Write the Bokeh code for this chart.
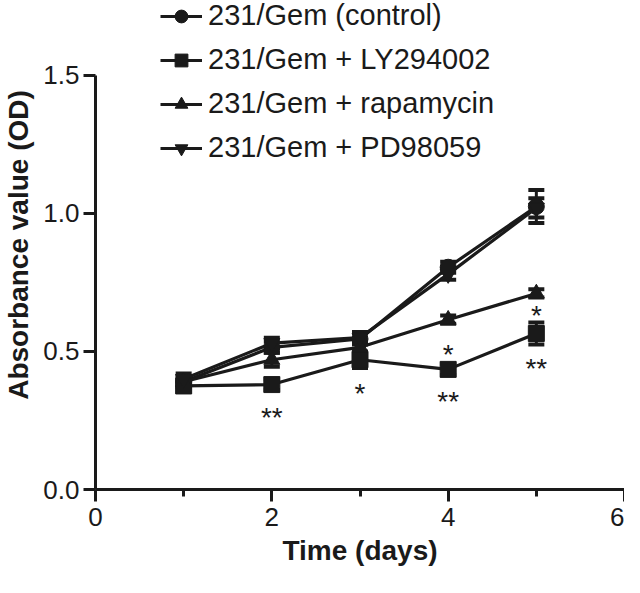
from bokeh.plotting import figure
from bokeh.models import (ColumnDataSource, Whisker, TeeHead, FixedTicker,
                          Legend, LegendItem, Range1d)
from bokeh.embed import file_html
from bokeh.resources import INLINE
from bokeh.core.properties import value

# ---- data ----
days = [1, 2, 3, 4, 5]
control = [0.39, 0.515, 0.545, 0.805, 1.025]
control_err = [0.02, 0.02, 0.02, 0.02, 0.06]
ly294002 = [0.375, 0.38, 0.47, 0.435, 0.565]
ly294002_err = [0.02, 0.02, 0.03, 0.02, 0.04]
rapamycin = [0.39, 0.47, 0.515, 0.615, 0.71]
rapamycin_err = [0.02, 0.025, 0.02, 0.015, 0.015]
pd98059 = [0.40, 0.53, 0.55, 0.78, 1.02]
pd98059_err = [0.02, 0.02, 0.02, 0.02, 0.035]

series_names = ["231/Gem (control)", "231/Gem + LY294002",
                "231/Gem + rapamycin", "231/Gem + PD98059"]
series_markers = ["circle", "square", "triangle", "inverted_triangle"]

star_x = [2, 3, 4, 4, 5, 5]
star_y = [0.27, 0.36, 0.50, 0.33, 0.64, 0.45]
star_text = ["**", "*", "*", "**", "*", "**"]

x_ticks = [0, 2, 4, 6]
x_minor = [1, 3, 5]
y_ticks = [0, 0.5, 1.0, 1.5]
y_tick_labels = ["0.0", "0.5", "1.0", "1.5"]

FONT = "Liberation Sans"
INK = "#1a1a1a"

p = figure(width=624, height=577, output_backend="svg", toolbar_location=None,
           x_range=Range1d(0, 6), y_range=Range1d(0, 1.771),
           min_border_left=92, min_border_right=0, min_border_top=0,
           min_border_bottom=88)
p.outline_line_color = None
p.xgrid.grid_line_color = None
p.ygrid.grid_line_color = None
p.background_fill_color = "white"
p.border_fill_color = "white"

renderers = []
all_vals = [control, ly294002, rapamycin, pd98059]
all_errs = [control_err, ly294002_err, rapamycin_err, pd98059_err]
for name, mk, vals, errs in zip(series_names, series_markers, all_vals, all_errs):
    src = ColumnDataSource(dict(x=days, y=vals,
                                lo=[v - e for v, e in zip(vals, errs)],
                                hi=[v + e for v, e in zip(vals, errs)]))
    w = Whisker(base="x", upper="hi", lower="lo", source=src, dimension="height",
                line_color=INK, line_width=3,
                upper_head=TeeHead(size=16, line_width=4, line_color=INK),
                lower_head=TeeHead(size=16, line_width=4, line_color=INK))
    p.add_layout(w)
    ln = p.line("x", "y", source=src, line_color=INK, line_width=3.2)
    sc = p.scatter("x", "y", source=src, marker=mk, size=16,
                   fill_color=INK, line_color=INK)
    renderers.append((name, ln, sc))

p.text(x=star_x, y=star_y, text=star_text, text_align="center",
       text_baseline="alphabetic", y_offset=3, text_font=value(FONT),
       text_font_size="28px", text_color=INK)

legend = Legend(items=[LegendItem(label=n, renderers=[l, s]) for n, l, s in renderers],
                location=(65, 325), orientation="vertical",
                glyph_width=42, glyph_height=32, spacing=11, label_standoff=6,
                padding=0, margin=0, border_line_color=None,
                background_fill_alpha=0,
                label_text_font=FONT, label_text_font_size="29px",
                label_text_color=INK, label_height=32)
p.add_layout(legend, "center")

# axes
xa = p.xaxis[0]
xa.ticker = FixedTicker(ticks=x_ticks, minor_ticks=x_minor)
xa.bounds = (0, 6)
xa.axis_label = "Time (days)"
ya = p.yaxis[0]
ya.ticker = FixedTicker(ticks=y_ticks)
ya.bounds = (0, 1.5)
ya.axis_label = "Absorbance value (OD)"
ya.major_label_overrides = {t: l for t, l in zip(y_ticks, y_tick_labels)}

for ax in (xa, ya):
    ax.axis_line_color = INK
    ax.axis_line_width = 3
    ax.major_tick_line_color = INK
    ax.major_tick_line_width = 3
    ax.major_tick_out = 12
    ax.major_tick_in = 0
    ax.minor_tick_line_color = INK
    ax.minor_tick_line_width = 3
    ax.minor_tick_in = 0
    ax.major_label_text_font = FONT
    ax.major_label_text_font_size = "26px"
    ax.major_label_text_color = INK
    ax.axis_label_text_font = FONT
    ax.axis_label_text_font_style = "bold"
    ax.axis_label_text_font_size = "28px"
    ax.axis_label_text_color = INK
xa.minor_tick_out = 7
ya.minor_tick_out = 0
ya.minor_tick_line_color = None
xa.major_label_standoff = 6
ya.major_label_standoff = 4
xa.axis_label_standoff = 6
ya.axis_label_standoff = 6

open("out.html", "w").write(file_html(p, INLINE))
